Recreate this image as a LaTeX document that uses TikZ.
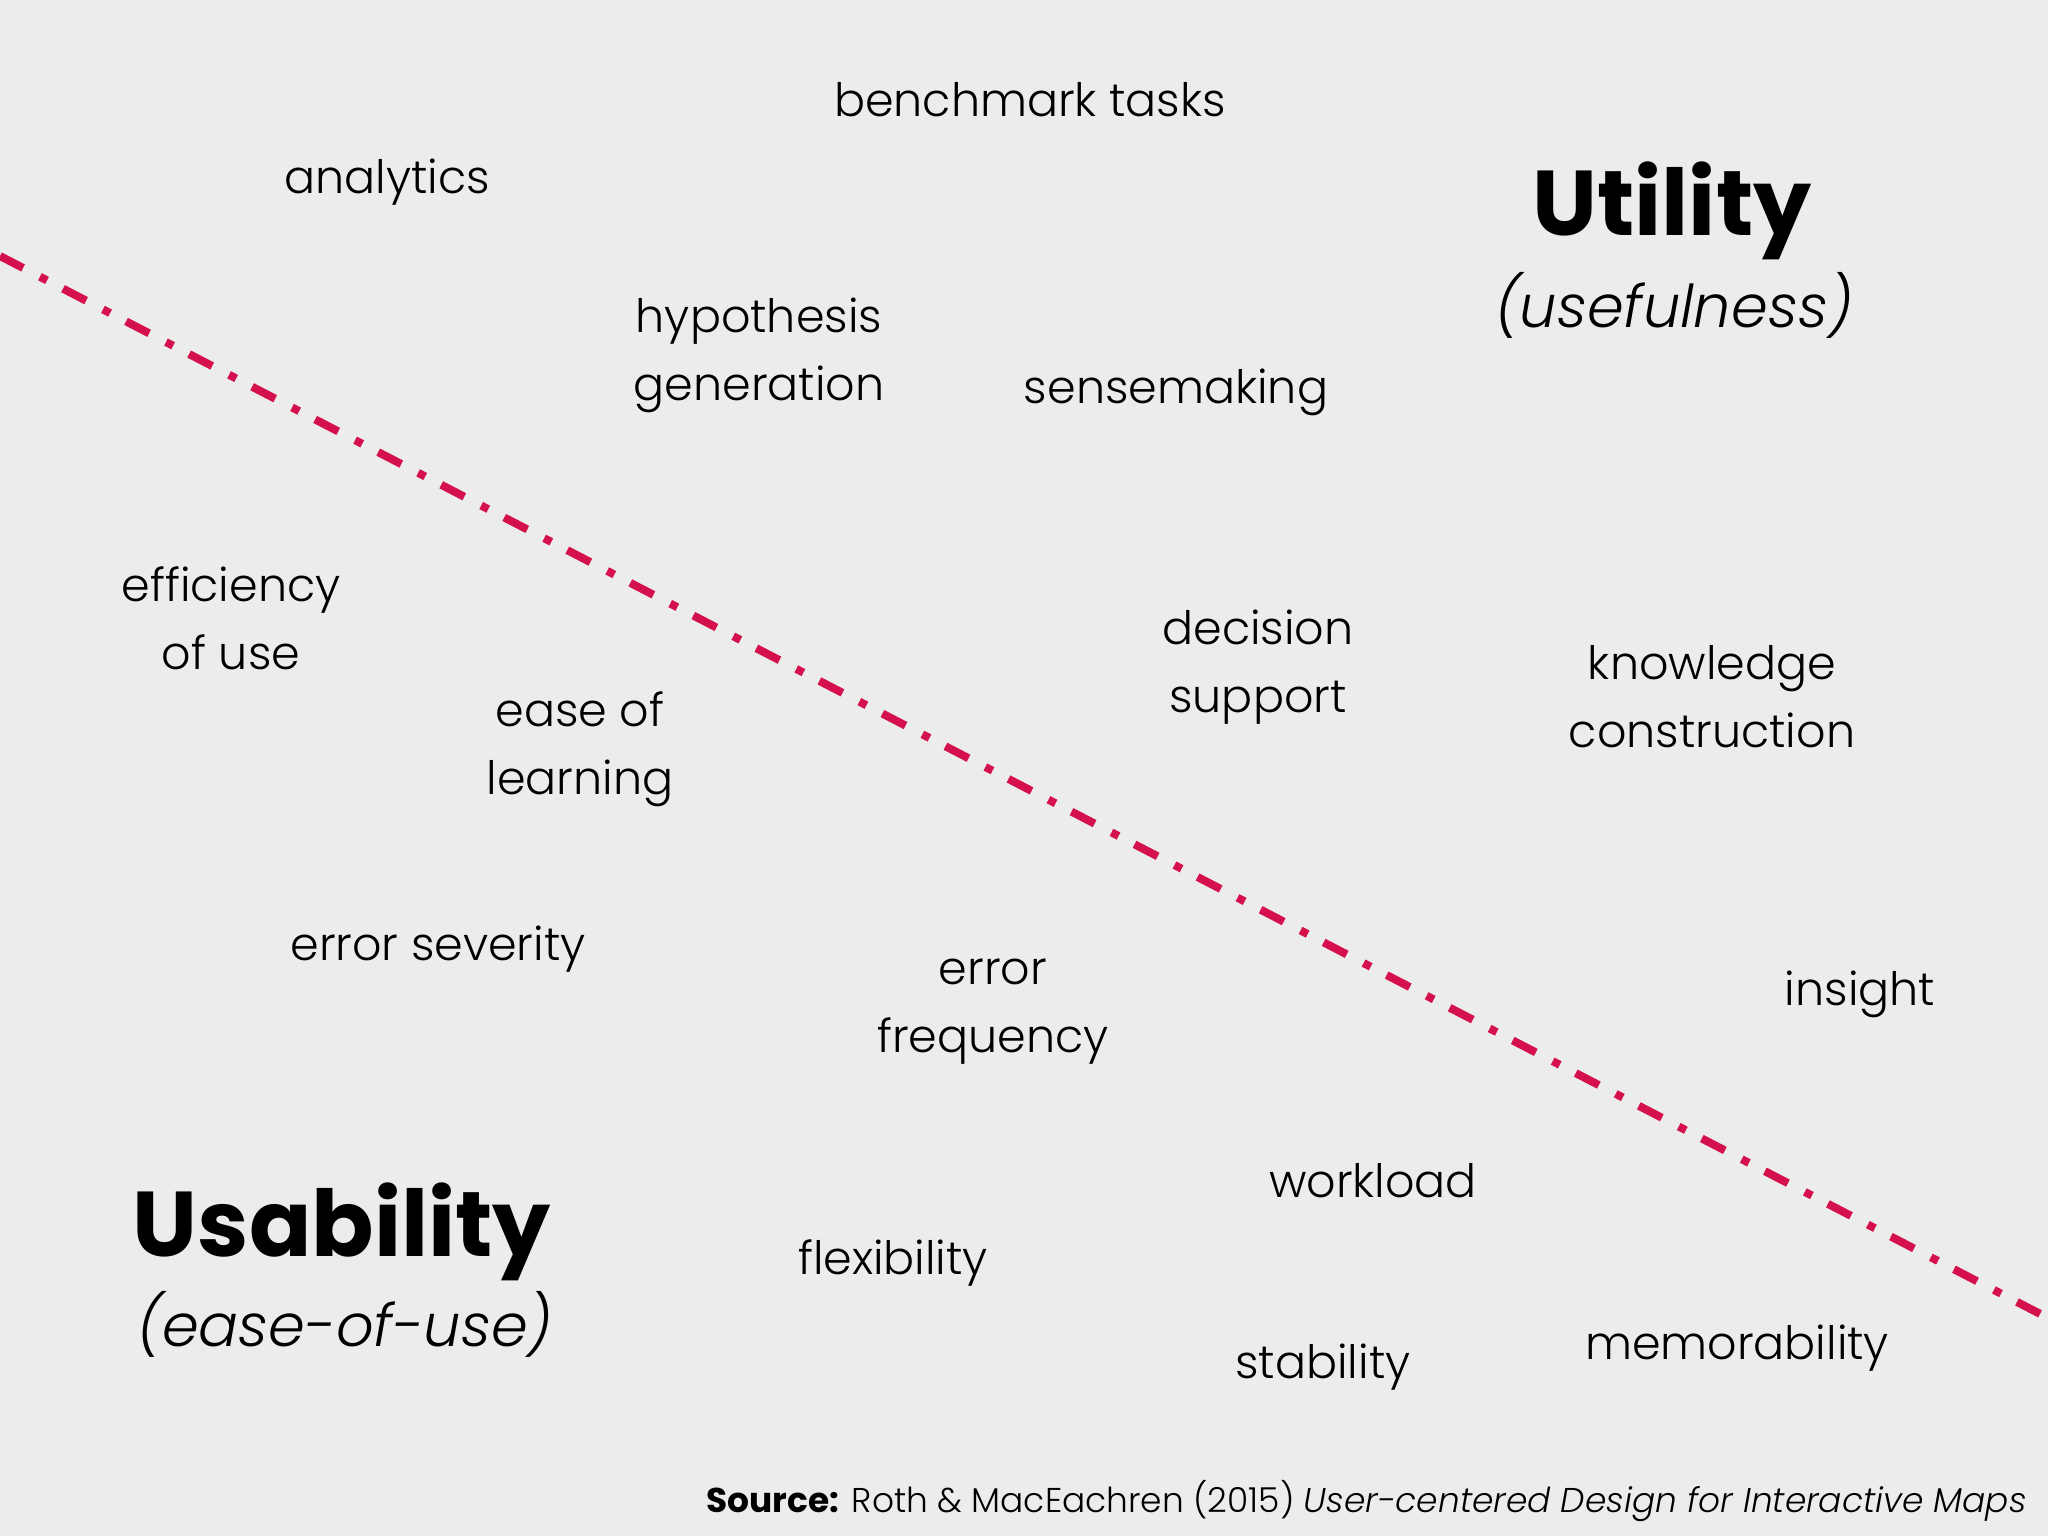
\documentclass[tikz,border=0pt]{standalone}
\usepackage{fontspec}
\setmainfont{Poppins}[UprightFont=* Light, ItalicFont=* Light Italic, BoldFont=* Bold]
\usepackage{xcolor}
\definecolor{paper}{RGB}{237,236,236}
\definecolor{divred}{RGB}{212,17,76}

\tikzset{
  term/.style={inner sep=0pt, align=center, font=\fontsize{23}{34}\selectfont},
  heading/.style={inner sep=0pt, font=\bfseries\fontsize{46}{52}\selectfont},
  subheading/.style={inner sep=0pt, font=\itshape\fontsize{29.5}{36}\selectfont},
  divider/.style={color=divred, line width=4pt, dash pattern=on 13pt off 9.5pt on 4pt off 9pt}
}

\begin{document}
\begin{tikzpicture}[x=0.5pt,y=0.5pt,yscale=-1,xscale=1]
% background, sets the picture size
\fill [paper] (0,0) rectangle (2048,1536);
\useasboundingbox (0,0) rectangle (2048,1536);

% dividing line
\coordinate (lineL) at (0,256);
\coordinate (lineR) at (2048,1318);
\draw [divider] (lineL) -- (lineR);

% Utility side
\node [heading] (utility) at (1672,211) {Utility};
\node [subheading] (usefulness) at (1674,305) {(usefulness)};
\node [term] (benchmark) at (1030,100) {benchmark tasks};
\node [term] (analytics) at (387,182) {analytics};
\node [term] (hypothesis) at (759,355) {hypothesis\\generation};
\node [term] (sensemaking) at (1176,392) {sensemaking};
\node [term] (decision) at (1258,667) {decision\\support};
\node [term] (knowledge) at (1712,697) {knowledge\\construction};
\node [term] (insight) at (1860,994) {insight};

% Usability side
\node [term] (efficiency) at (231,618) {efficiency\\of use};
\node [term] (ease) at (580,749) {ease of\\learning};
\node [term] (severity) at (438,949) {error severity};
\node [term] (frequency) at (993,1012) {error\\frequency};
\node [term] (workload) at (1373,1181) {workload};
\node [term] (flexibility) at (893,1263) {flexibility};
\node [term] (stability) at (1323,1367) {stability};
\node [term] (memorability) at (1737,1348) {memorability};
\node [heading] (usability) at (342,1232) {Usability};
\node [subheading] (easeofuse) at (345,1324) {(ease-of-use)};

% Source
\node [inner sep=0pt, anchor=base east, font=\fontsize{17.2}{22}\selectfont] (source) at (2027,1512)
  {\textbf{Source:} Roth \& MacEachren (2015) \textit{User-centered Design for Interactive Maps}};
\end{tikzpicture}
\end{document}
